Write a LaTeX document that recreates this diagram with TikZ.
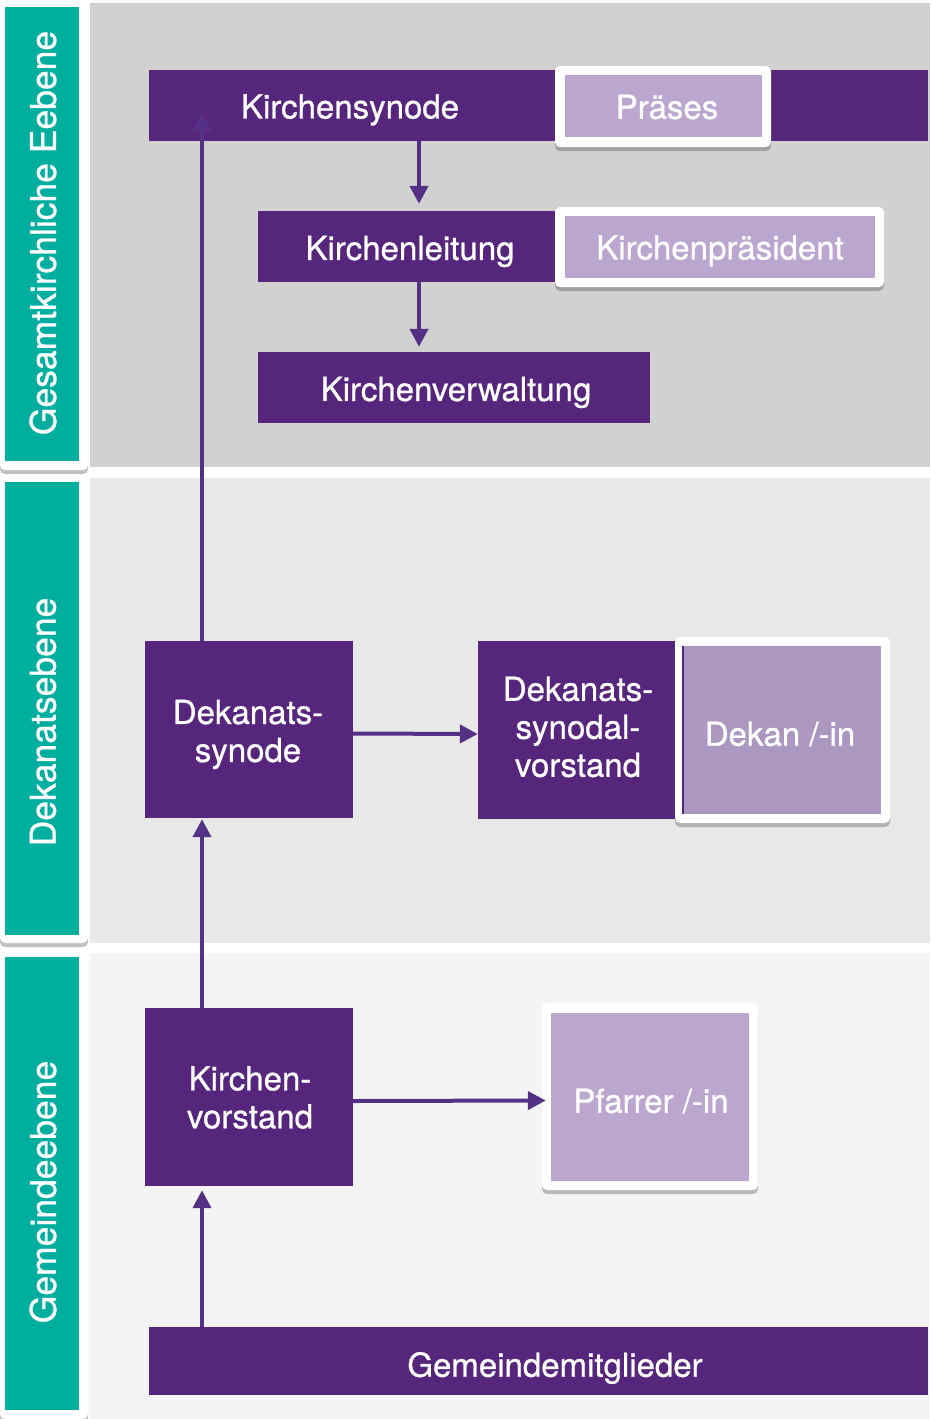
\documentclass[tikz,border=0pt]{standalone}
\usepackage{fontspec}
\newfontfamily\medfont{TeX Gyre Heros}[FakeBold=0.8]
\setmainfont{TeX Gyre Heros}
\usetikzlibrary{shadows,arrows.meta}
\definecolor{purp}{RGB}{86,38,124}
\definecolor{arrc}{RGB}{85,49,133}
\definecolor{teal}{RGB}{0,174,160}
\definecolor{lav}{RGB}{187,166,207}
\definecolor{lavd}{RGB}{172,151,192}
\definecolor{bgA}{RGB}{209,209,209}
\definecolor{bgB}{RGB}{232,232,232}
\definecolor{bgC}{RGB}{244,244,244}
\tikzset{
  pbox/.style={fill=purp, inner sep=0pt},
  wframe/.style={fill=white, rounded corners=5pt, inner sep=0pt,
     drop shadow={shadow xshift=0pt, shadow yshift=-4pt, opacity=0.35, fill=black!70}},
  lbox/.style={fill=lav, inner sep=0pt},
  btxt/.style={text=white, font=\medfont\fontsize{33}{38}\selectfont, align=center, inner sep=0pt},
  side/.style={text=white, font=\medfont\fontsize{35.5}{40}\selectfont, rotate=90, inner sep=0pt},
  conn/.style={draw=arrc, line width=4pt, -{Triangle[length=18pt,width=18pt]}},
}
\begin{document}
\begin{tikzpicture}[x=1pt,y=-1pt]
\useasboundingbox (0,0) rectangle (930,1419);
\fill[white] (0,0) rectangle (930,1419);
% bands
\fill[bgA] (90,3) rectangle (930,467);
\fill[bgB] (90,478) rectangle (930,943);
\fill[bgC] (90,953) rectangle (930,1419);
% side labels
\node[wframe, minimum width=88pt, minimum height=470pt] (fA) at (44,235) {};
\node[wframe, minimum width=88pt, minimum height=467pt] (fB) at (44,709.5) {};
\node[wframe, minimum width=88pt, minimum height=469pt] (fC) at (44,1184.5) {};
\fill[teal] (5,7) rectangle (79,461);
\fill[teal] (5,482) rectangle (79,935);
\fill[teal] (5,957) rectangle (79,1410);
\node[side] (sA) at (43,233) {Gesamtkirchliche Eebene};
\node[side] (sB) at (43,722) {Dekanatsebene};
\node[side] (sC) at (43,1192) {Gemeindeebene};
% top level
\node[pbox, minimum width=779pt, minimum height=71pt] (ksyn) at (538.5,105.5) {};
\node[wframe, minimum width=216pt, minimum height=81pt] (praesW) at (663,106.5) {};
\node[lbox, minimum width=197pt, minimum height=62pt] (praes) at (663.5,106) {};
\node[pbox, minimum width=304pt, minimum height=71pt] (kleit) at (410,246.5) {};
\node[wframe, minimum width=329pt, minimum height=80pt] (kpresW) at (719.5,247) {};
\node[lbox, minimum width=310pt, minimum height=62pt] (kpres) at (720,247) {};
\node[pbox, minimum width=392pt, minimum height=71pt] (kverw) at (454,387.5) {};
% dekanat level
\node[pbox, minimum width=208pt, minimum height=177pt] (dsyn) at (249,729.5) {};
\node[pbox, minimum width=202pt, minimum height=178pt] (dsv) at (579,730) {};
\node[wframe, minimum width=215pt, minimum height=186pt] (dekW) at (782.5,730) {};
\node[lbox, fill=lavd, minimum width=198pt, minimum height=168pt] (dek) at (782,730) {};
\draw[purp, line width=1.5pt] (dek.north west) -- (dek.south west);
% gemeinde level
\node[pbox, minimum width=208pt, minimum height=178pt] (kvor) at (249,1097) {};
\node[wframe, minimum width=216pt, minimum height=187pt] (pfW) at (650,1096.5) {};
\node[lbox, minimum width=198pt, minimum height=168pt] (pf) at (650,1097) {};
\node[pbox, minimum width=779pt, minimum height=68pt] (gem) at (538.5,1361) {};
% texts
\node[btxt] (t-ksyn) at (350,110) {Kirchensynode};
\node[btxt] (t-praes) at (667,107) {Präses};
\node[btxt] (t-kleit) at (410,251.5) {Kirchenleitung};
\node[btxt] (t-kpres) at (720,251) {Kirchenpräsident};
\node[btxt] (t-kverw) at (456,392.5) {Kirchenverwaltung};
\node[btxt] (t-dsyn) at (248,734.5) {Dekanats-\\synode};
\node[btxt] (t-dsv) at (578,727) {Dekanats-\\synodal-\\vorstand};
\node[btxt] (t-dek) at (780,734) {Dekan /-in};
\node[btxt] (t-kvor) at (250,1097.5) {Kirchen-\\vorstand};
\node[btxt] (t-pf) at (651,1101) {Pfarrer /-in};
\node[btxt] (t-gem) at (555,1368) {Gemeindemitglieder};
% connectors
\coordinate (ksynIn) at (202,113);
\draw[conn, shorten >=7pt] (ksyn.south -| 419,0) -- (kleit.north -| 419,0);
\draw[conn, shorten >=5pt] (kleit.south -| 419,0) -- (kverw.north -| 419,0);
\draw[conn, shorten >=4pt] (gem.north -| 202,0) -- (kvor.south -| 202,0);
\draw[conn, shorten >=1pt] (kvor.north -| 202,0) -- (dsyn.south -| 202,0);
\draw[conn] (dsyn.north -| 202,0) -- (ksynIn);
\draw[conn] ([yshift=-4pt]dsyn.east) -- ([yshift=-4pt]dsv.west);
\draw[conn, shorten >=-4pt] ([yshift=-4pt]kvor.east) -- ([yshift=-4pt]pfW.west);
\end{tikzpicture}
\end{document}
